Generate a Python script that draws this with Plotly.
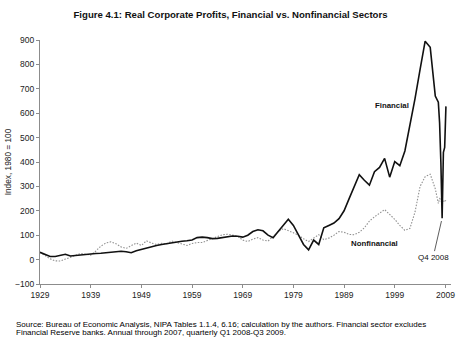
import plotly.graph_objects as go

# ---- data ----
years = list(range(1929, 2008))
financial_annual = [
    30, 20, 13, 13, 18, 22, 15, 17, 22, 24,          # 1929-1938
    24, 25, 26, 28, 31, 33, 34, 32, 28, 36,          # 1939-1948
    42, 47, 52, 58, 62, 66, 70, 73, 75, 77,          # 1949-1958
    80, 90, 92, 90, 86, 87, 90, 96, 97, 96,          # 1959-1968
    92, 100, 115, 122, 118, 100, 90, 115, 140, 165,  # 1969-1978
    140, 100, 62, 40, 80, 62, 130, 140, 150, 168,    # 1979-1988
    200, 250, 300, 348, 325, 305, 360, 378, 415, 338,  # 1989-1998
    402, 385, 445, 545, 660, 780, 895, 870, 670,     # 1999-2007
]
nonfinancial_annual = [
    30, 15, 3, -5, -6, 2, 10, 18, 25, 22,            # 1929-1938
    18, 35, 55, 68, 73, 65, 52, 46, 58, 68,          # 1939-1948
    58, 77, 68, 62, 67, 64, 76, 70, 64, 58,          # 1949-1958
    66, 70, 70, 78, 84, 92, 102, 104, 100, 96,       # 1959-1968
    80, 74, 84, 90, 80, 76, 95, 115, 127, 120,       # 1969-1978
    110, 100, 85, 74, 88, 102, 82, 88, 100, 115,     # 1979-1988
    112, 103, 102, 112, 130, 158, 175, 190, 205, 185,  # 1989-1998
    165, 140, 120, 128, 195, 300, 340, 350, 290,     # 1999-2007
]
quarter_labels = ["Q1 2008", "Q2 2008", "Q3 2008", "Q4 2008",
                  "Q1 2009", "Q2 2009", "Q3 2009"]
quarter_pos = [2007.6, 2007.85, 2008.1, 2008.35, 2008.6, 2008.85, 2009.1]
financial_quarterly = [645, 560, 400, 170, 440, 460, 628]
nonfinancial_quarterly = [230, 250, 245, 228, 235, 245, 240]

tick_years = [1929, 1939, 1949, 1959, 1969, 1979, 1989, 1999, 2009]

title_text = "Figure 4.1: Real Corporate Profits, Financial vs. Nonfinancial Sectors"
y_title = "Index, 1980 = 100"
source_lines = [
    "Source: Bureau of Economic Analysis, NIPA Tables 1.1.4, 6.16; calculation by the authors. Financial sector excludes",
    "Financial Reserve banks. Annual through 2007, quarterly Q1 2008-Q3 2009.",
]

assert len(years) == len(financial_annual) == len(nonfinancial_annual)

x_all = years + quarter_pos
fin_all = financial_annual + financial_quarterly
nonfin_all = nonfinancial_annual + nonfinancial_quarterly

FONT = "Arial, Liberation Sans, sans-serif"

fig = go.Figure()
fig.add_trace(go.Scatter(
    x=x_all, y=nonfin_all, mode="lines", name="Nonfinancial",
    line=dict(color="#909090", width=1.1, dash="1.5px,1.5px"),
))
fig.add_trace(go.Scatter(
    x=x_all, y=fin_all, mode="lines", name="Financial",
    line=dict(color="#111111", width=1.6),
))

q4_idx = quarter_labels.index("Q4 2008")
fig.add_annotation(x=quarter_pos[q4_idx], y=financial_quarterly[q4_idx],
                   text="Q4 2008", showarrow=True, arrowhead=0, arrowwidth=0.8,
                   arrowcolor="#333", ax=-9, ay=39, standoff=3,
                   font=dict(family=FONT, size=8, color="#111"))
fig.add_annotation(x=1998.4, y=fin_all[years.index(2001)] + 188, text="<b>Financial</b>",
                   showarrow=False, font=dict(family=FONT, size=7.8, color="#111"))
fig.add_annotation(x=1995.0, y=nonfin_all[years.index(1996)] - 125, text="<b>Nonfinancial</b>",
                   showarrow=False, font=dict(family=FONT, size=7.8, color="#111"))

for i, line in enumerate(source_lines):
    fig.add_annotation(xref="paper", yref="paper", x=-0.062, xanchor="left",
                       y=-0.165 - i * 0.034, yanchor="middle", text=line, showarrow=False,
                       borderpad=0,
                       font=dict(family=FONT, size=8.0, color="#000"))

fig.update_layout(
    width=469, height=354,
    margin=dict(l=40, r=18, t=40, b=70),
    paper_bgcolor="white", plot_bgcolor="white",
    showlegend=False,
    title=dict(text="<b>" + title_text + "</b>", x=0.4915, xanchor="center",
               y=0.958, yanchor="middle",
               font=dict(family=FONT, size=9.6, color="#111")),
    font=dict(family=FONT, size=8.5, color="#222"),
)
fig.update_xaxes(range=[1929, 2010.1], tickvals=tick_years,
                 ticktext=[str(t) for t in tick_years],
                 showgrid=False, zeroline=False, showline=True,
                 linecolor="#8c8c8c", linewidth=1, ticks="outside",
                 ticklen=3, tickcolor="#8c8c8c", automargin=False,
                 tickfont=dict(family=FONT, size=8.5, color="#222"))
fig.update_yaxes(range=[-100, 900], dtick=100, tick0=0,
                 showgrid=False, zeroline=False, showline=True,
                 linecolor="#8c8c8c", linewidth=1, ticks="outside",
                 ticklen=3, tickcolor="#8c8c8c", automargin=False,
                 tickfont=dict(family=FONT, size=8.5, color="#222"),
                 title=dict(text=y_title, standoff=2,
                            font=dict(family=FONT, size=8.3, color="#222")))

fig.write_html("out.html")
